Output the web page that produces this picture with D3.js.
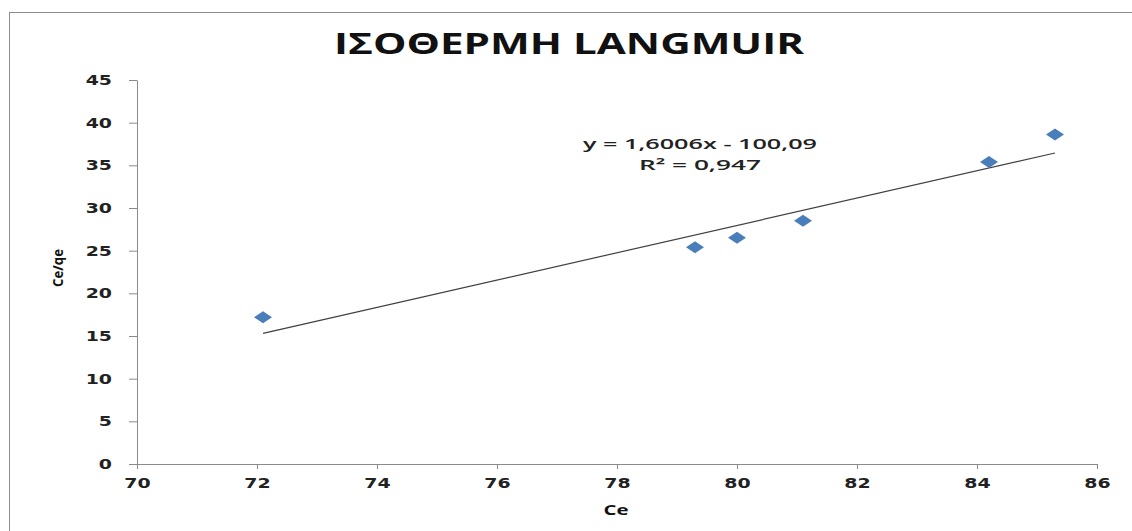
<!DOCTYPE html>
<html>
<head>
<meta charset="utf-8">
<script src="https://d3js.org/d3.v7.min.js"></script>
<style>
  html, body { margin: 0; padding: 0; background: #fff; }
  svg { display: block; }
</style>
</head>
<body>
<svg id="chart" width="1132" height="531"></svg>
<script>
// ---- data ----
const ceValues = [72.1, 79.3, 80.0, 81.1, 84.2, 85.3];
const ceQeValues = [17.2, 25.4, 26.5, 28.5, 35.4, 38.6];
const xTicks = [70, 72, 74, 76, 78, 80, 82, 84, 86];
const yTicks = [0, 5, 10, 15, 20, 25, 30, 35, 40, 45];
const trendSlope = [1.6006];
const trendIntercept = [-100.09];
const titleText = "ΙΣΟΘΕΡΜΗ LANGMUIR";
const xTitle = "Ce";
const yTitle = "Ce/qe";
const equationLines = ["y = 1,6006x - 100,09", "R² = 0,947"];

const svg = d3.select("#chart");
const W = 1132, H = 531;
const m = { left: 137, right: 1097, top: 80, bottom: 464 };

// outer border
svg.append("rect")
  .attr("x", 9.5).attr("y", 12.5)
  .attr("width", W + 10).attr("height", H + 10)
  .attr("fill", "none").attr("stroke", "#8c8c8c").attr("stroke-width", 1);

const x = d3.scaleLinear().domain([70, 86]).range([m.left, m.right]);
const y = d3.scaleLinear().domain([0, 45]).range([m.bottom, m.top]);

const axisColor = "#8a8a8a";
const sx = 1.35;

// x axis
const gx = svg.append("g")
  .attr("transform", `translate(0,${m.bottom})`)
  .call(d3.axisBottom(x).tickValues(xTicks).tickSize(5).tickSizeOuter(0).tickPadding(9));
gx.select(".domain").attr("stroke", axisColor);
gx.selectAll(".tick line").attr("stroke", axisColor);
gx.selectAll(".tick text")
  .attr("font-family", "DejaVu Sans")
  .attr("font-weight", "bold")
  .attr("font-size", 14)
  .attr("fill", "#222")
  .attr("transform", `scale(${sx},1)`)
  .attr("x", 0);

// y axis
const gy = svg.append("g")
  .attr("transform", `translate(${m.left},0)`)
  .call(d3.axisLeft(y).tickValues(yTicks).tickSize(8).tickSizeOuter(0).tickPadding(12));
gy.select(".domain").attr("stroke", axisColor);
gy.selectAll(".tick line").attr("stroke", axisColor);
gy.selectAll(".tick text")
  .attr("font-family", "DejaVu Sans")
  .attr("font-weight", "bold")
  .attr("font-size", 14)
  .attr("fill", "#222")
  .attr("x", -25 / sx)
  .attr("transform", `scale(${sx},1)`);

// trendline
const xMin = d3.min(ceValues), xMax = d3.max(ceValues);
const trend = [xMin, xMax].map(v => [v, trendSlope[0] * v + trendIntercept[0]]);
svg.append("path")
  .datum(trend)
  .attr("d", d3.line().x(d => x(d[0])).y(d => y(d[1])))
  .attr("stroke", "#404040")
  .attr("stroke-width", 1.2)
  .attr("fill", "none");

// points (diamonds)
const pts = ceValues.map((v, i) => [v, ceQeValues[i]]);
svg.append("g").selectAll("path")
  .data(pts)
  .join("path")
  .attr("transform", d => `translate(${x(d[0])},${y(d[1])})`)
  .attr("d", "M-9,0 L0,-6 L9,0 L0,6 Z")
  .attr("fill", "#4a7ebb");

// title
svg.append("text")
  .attr("x", 569).attr("y", 54)
  .attr("text-anchor", "middle")
  .attr("font-family", "Open Sans")
  .attr("font-weight", "bold")
  .attr("font-size", 28)
  .attr("fill", "#111")
  .attr("textLength", 470)
  .attr("lengthAdjust", "spacingAndGlyphs")
  .text(titleText);

// x title
svg.append("text")
  .attr("x", 616).attr("y", 515)
  .attr("text-anchor", "middle")
  .attr("font-family", "Open Sans")
  .attr("font-weight", "bold")
  .attr("font-size", 15)
  .attr("fill", "#111")
  .attr("textLength", 25)
  .attr("lengthAdjust", "spacingAndGlyphs")
  .text(xTitle);

// y title
svg.append("text")
  .attr("transform", `translate(63,268) rotate(-90)`)
  .attr("text-anchor", "middle")
  .attr("font-family", "Open Sans")
  .attr("font-weight", "bold")
  .attr("font-size", 15)
  .attr("fill", "#111")
  .attr("textLength", 38)
  .attr("lengthAdjust", "spacingAndGlyphs")
  .text(yTitle);

// equation
const eqLens = [234, 122];
svg.append("g").selectAll("text")
  .data(equationLines)
  .join("text")
  .attr("x", 700)
  .attr("y", (d, i) => 149 + i * 21)
  .attr("text-anchor", "middle")
  .attr("font-family", "Open Sans")
  .attr("font-weight", 600)
  .attr("font-size", 15)
  .attr("fill", "#222")
  .attr("textLength", (d, i) => eqLens[i])
  .attr("lengthAdjust", "spacingAndGlyphs")
  .text(d => d);
</script>
</body>
</html>
